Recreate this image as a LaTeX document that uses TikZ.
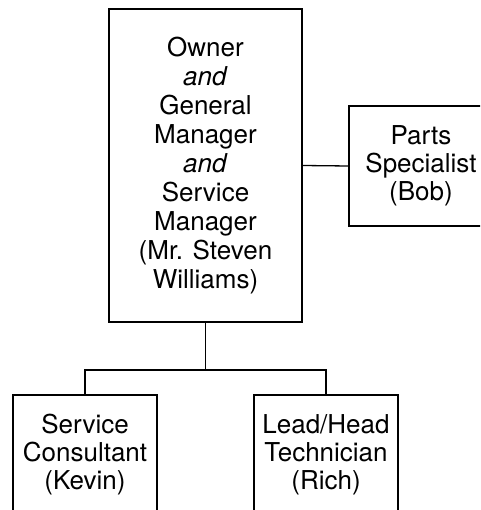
\documentclass[tikz,border=0pt]{standalone}
\usepackage{fontspec}
\setmainfont{TeX Gyre Heros}
\begin{document}
\begin{tikzpicture}[x=1pt,y=-1pt,
  box/.style={draw, line width=1.3pt, align=center, inner sep=0pt,
    font=\fontsize{26}{28}\selectfont},
  small/.style={box, minimum width=144pt, minimum height=120pt},
  link/.style={line width=1.3pt}]
\useasboundingbox (0,0) rectangle (480,510);
\clip (0,0) rectangle (480,510);
% top of the chart
\node[box, font=\fontsize{26}{29}\selectfont, minimum width=193pt, minimum height=313pt] (gm) at (205.5,165.5)
  {Owner\\\textit{and}\\General\\Manager\\\textit{and}\\Service\\Manager\\(Mr. Steven\\Williams)};
\node[small] (parts) at (421,166) {Parts\\Specialist\\(Bob)};
% staff below
\node[small] (sc) at (85,455) {Service\\Consultant\\(Kevin)};
\node[small] (lt) at (326,455) {Lead/Head\\Technician\\(Rich)};
% connectors
\draw[link] (gm.east) -- (parts.west);
\coordinate (split) at (205.5,370);
\draw[link] (gm.south) -- (split);
\draw[link] (sc.north) -- (sc.north |- split) -- (lt.north |- split) -- (lt.north);
\end{tikzpicture}
\end{document}
